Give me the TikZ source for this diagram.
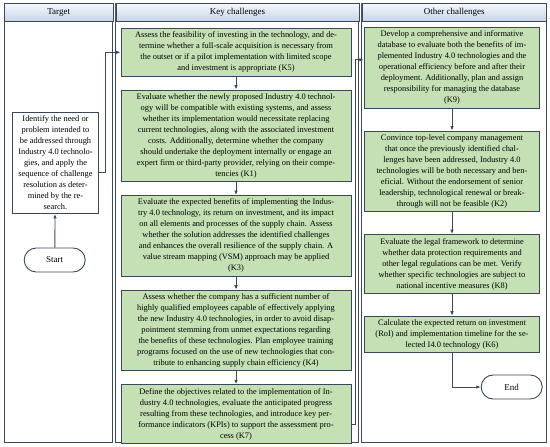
\documentclass[tikz,border=0pt]{standalone}
\usepackage{fontspec}
\setmainfont{Liberation Serif}
\usetikzlibrary{positioning}
\usetikzlibrary{arrows.meta}

\definecolor{edgegray}{RGB}{58,72,88}
\definecolor{kgreen}{RGB}{197,224,180}
\definecolor{headtop}{RGB}{246,248,252}
\definecolor{headbot}{RGB}{196,212,234}

\begin{document}
\begin{tikzpicture}[x=1pt,y=-1pt,
  col/.style={draw=edgegray,line width=0.9pt,fill=white},
  head/.style={draw=edgegray,line width=0.9pt,top color=headtop,bottom color=headbot,
    minimum height=18pt,inner sep=0pt,anchor=north west,font=\fontsize{9}{10}\selectfont},
  kbox/.style={draw=edgegray,line width=0.9pt,fill=kgreen,align=center,
    inner xsep=1.5pt,inner ysep=3.5pt,font=\fontsize{8.4}{11}\selectfont},
  key/.style={kbox,minimum width=230pt},
  other/.style={kbox,minimum width=175.5pt},
  target/.style={kbox,fill=white,minimum width=85.6pt},
  term/.style={draw=edgegray,line width=0.9pt,fill=white,rounded corners=12pt,
    minimum width=61pt,minimum height=24pt,font=\fontsize{9}{10}\selectfont},
  link/.style={draw=edgegray,line width=0.9pt,-{Latex[length=4.5pt,width=3.5pt]}}
]
\useasboundingbox (0,0) rectangle (550,447);

% columns
\draw[col] (4,3) rectangle (112.5,442);
\draw[col] (115.5,3) rectangle (358.5,442);
\draw[col] (361.5,3) rectangle (546,442);
\node[head,minimum width=108.5pt] (H1) at (4,3) {Target};
\node[head,minimum width=243pt] (H2) at (115.5,3) {Key challenges};
\node[head,minimum width=184.5pt] (H3) at (361.5,3) {Other challenges};

% target
\node[target,anchor=north] (T) at (55.5,112) {Identify the need or\\ problem intended to\\
  be addressed through\\ Industry 4.0 technolo-\\ gies, and apply the\\
  sequence of challenge\\ resolution as deter-\\ mined by the re-\\ search.};
\node[term] (S) at (54.7,260) {Start};

% key challenges
\node[key,anchor=north] (K5) at (236,28) {Assess the feasibility of investing in the technology, and de-\\
  termine whether a full-scale acquisition is necessary from\\
  the outset or if a pilot implementation with limited scope\\
  and investment is appropriate (K5)};
\node[key,below=13pt of K5] (K1) {Evaluate whether the newly proposed Industry 4.0 technol-\\
  ogy will be compatible with existing systems, and assess\\
  whether its implementation would necessitate replacing\\
  current technologies, along with the associated investment\\
  costs. Additionally, determine whether the company\\
  should undertake the deployment internally or engage an\\
  expert firm or third-party provider, relying on their compe-\\
  tencies (K1)};
\node[key,below=13pt of K1] (K3) {Evaluate the expected benefits of implementing the Indus-\\
  try 4.0 technology, its return on investment, and its impact\\
  on all elements and processes of the supply chain. Assess\\
  whether the solution addresses the identified challenges\\
  and enhances the overall resilience of the supply chain. A\\
  value stream mapping (VSM) approach may be applied\\
  (K3)};
\node[key,below=13pt of K3] (K4) {Assess whether the company has a sufficient number of\\
  highly qualified employees capable of effectively applying\\
  the new Industry 4.0 technologies, in order to avoid disap-\\
  pointment stemming from unmet expectations regarding\\
  the benefits of these technologies. Plan employee training\\
  programs focused on the use of new technologies that con-\\
  tribute to enhancing supply chain efficiency (K4)};
\node[key,below=13pt of K4] (K7) {Define the objectives related to the implementation of In-\\
  dustry 4.0 technologies, evaluate the anticipated progress\\
  resulting from these technologies, and introduce key per-\\
  formance indicators (KPIs) to support the assessment pro-\\
  cess (K7)};

% other challenges
\node[other,anchor=north] (K9) at (452,27) {Develop a comprehensive and informative\\
  database to evaluate both the benefits of im-\\
  plemented Industry 4.0 technologies and the\\
  operational efficiency before and after their\\
  deployment. Additionally, plan and assign\\
  responsibility for managing the database\\
  (K9)};
\node[other,below=22pt of K9] (K2) {Convince top-level company management\\
  that once the previously identified chal-\\
  lenges have been addressed, Industry 4.0\\
  technologies will be both necessary and ben-\\
  eficial. Without the endorsement of senior\\
  leadership, technological renewal or break-\\
  through will not be feasible (K2)};
\node[other,below=22pt of K2] (K8) {Evaluate the legal framework to determine\\
  whether data protection requirements and\\
  other legal regulations can be met. Verify\\
  whether specific technologies are subject to\\
  national incentive measures (K8)};
\node[other,below=22pt of K8] (K6) {Calculate the expected return on investment\\
  (RoI) and implementation timeline for the se-\\
  lected I4.0 technology (K6)};
\node[term] (E) at (511.7,387) {End};

\draw[link] (S) -- (T);
\draw[link] ([yshift=-9pt]T.east) -- ++(6.7,0) |- (K5);
\draw[link] (K5) -- (K1);
\draw[link] (K1) -- (K3);
\draw[link] (K3) -- (K4);
\draw[link] (K4) -- (K7);
\draw[link] ([yshift=-10pt]K7.east) -- ++(4,0) |- ([yshift=8pt]K9.west);
\draw[link] (K9) -- (K2);
\draw[link] (K2) -- (K8);
\draw[link] (K8) -- (K6);
\draw[link] (K6) |- (E);
\end{tikzpicture}
\end{document}
